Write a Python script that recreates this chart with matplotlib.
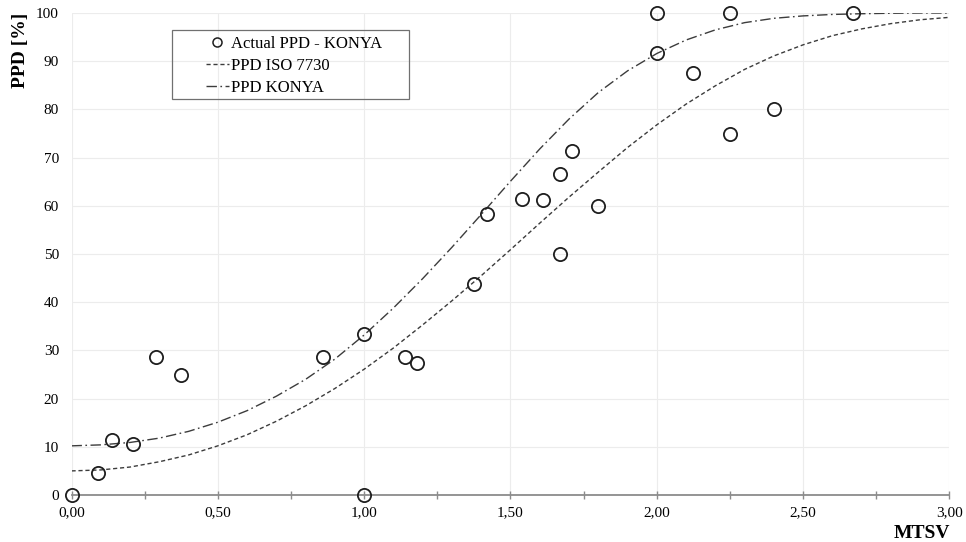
import numpy as np
import matplotlib.pyplot as plt
from matplotlib.ticker import MultipleLocator, FuncFormatter
from matplotlib.lines import Line2D
from matplotlib.patches import Rectangle

plt.rcParams['font.family'] = ['Liberation Serif', 'DejaVu Serif']

# measured points: Actual PPD - KONYA
mtsv_actual = [0.00, 0.09, 0.14, 0.21, 0.29, 0.375, 0.86, 1.00, 1.00, 1.14, 1.18,
               1.375, 1.42, 1.54, 1.61, 1.67, 1.67, 1.71, 1.80, 2.00, 2.00, 2.125,
               2.25, 2.25, 2.40, 2.67]
ppd_actual = [0.0, 4.6, 11.5, 10.6, 28.6, 25.0, 28.6, 33.3, 0.0, 28.6, 27.3,
              43.8, 58.3, 61.5, 61.1, 66.7, 50.0, 71.4, 60.0, 100.0, 91.7, 87.5,
              100.0, 75.0, 80.0, 100.0]

# curves every 0.1 MTSV
mtsv_curve = [0.0, 0.1, 0.2, 0.3, 0.4, 0.5, 0.6, 0.7, 0.8, 0.9, 1.0,
              1.1, 1.2, 1.3, 1.4, 1.5, 1.6, 1.7, 1.8, 1.9, 2.0,
              2.1, 2.2, 2.3, 2.4, 2.5, 2.6, 2.7, 2.8, 2.9, 3.0]
ppd_iso = [5.0, 5.2, 5.8, 6.9, 8.3, 10.2, 12.5, 15.3, 18.5, 22.1, 26.1,
           30.5, 35.3, 40.3, 45.5, 50.9, 56.4, 61.8, 67.0, 72.1, 76.8,
           81.1, 84.9, 88.3, 91.1, 93.4, 95.3, 96.7, 97.8, 98.6, 99.1]
ppd_konya = [10.2, 10.4, 10.9, 11.8, 13.2, 15.1, 17.5, 20.5, 24.0, 28.2, 33.2,
             38.8, 44.9, 51.4, 58.2, 65.1, 71.8, 78.0, 83.5, 88.0, 91.6,
             94.4, 96.5, 98.0, 98.9, 99.4, 99.7, 99.85, 99.95, 100.0, 100.0]

W, H = 966, 542
fig = plt.figure(figsize=(W / 100, H / 100), dpi=100)
ax = fig.add_axes([71.5 / W, 1 - 495 / H, 878 / W, 482 / H])

line_col = '#3c3c3c'
ax.plot(mtsv_curve, ppd_iso, color=line_col, lw=1.0, dashes=(3, 2), zorder=3)
ax.plot(mtsv_curve, ppd_konya, color=line_col, lw=1.0, dashes=(7.5, 2.5, 1.2, 2.5), zorder=3)
ax.plot(mtsv_actual, ppd_actual, linestyle='none', marker='o', ms=9.5, mfc='none',
        mec='#1e1e1e', mew=1.3, clip_on=False, zorder=5)

ax.set_xlim(0, 3)
ax.set_ylim(0, 100)
ax.xaxis.set_major_locator(MultipleLocator(0.5))
ax.xaxis.set_minor_locator(MultipleLocator(0.25))
ax.xaxis.set_major_formatter(FuncFormatter(lambda v, p: f"{v:.2f}".replace('.', ',')))
ax.yaxis.set_major_locator(MultipleLocator(10))

for s in ['top', 'right', 'left']:
    ax.spines[s].set_visible(False)
ax.spines['bottom'].set_color('#8c8c8c')
ax.spines['bottom'].set_linewidth(1.3)
ax.spines['bottom'].set_zorder(4)

ax.tick_params(axis='x', which='both', direction='inout', length=6, width=1.0,
               color='#8c8c8c', labelsize=11, pad=5)
ax.tick_params(axis='y', length=0, labelsize=11, pad=9)
ax.grid(True, which='major', color='#ececec', lw=0.8)
ax.set_axisbelow(True)

fig.text(21 / W, 1 - 50 / H, 'PPD [%]', rotation=90, ha='center', va='center',
         fontsize=14, fontweight='bold')
fig.text(950 / W, 1 - 533 / H, 'MTSV', ha='right', va='center',
         fontsize=14, fontweight='bold')

# legend (frame drawn separately to match the wide box)
handles = [
    Line2D([], [], linestyle='none', marker='o', ms=6.5, mfc='none', mec='#1e1e1e', mew=1.1),
    Line2D([], [], color=line_col, lw=1.0, dashes=(3, 2)),
    Line2D([], [], color=line_col, lw=1.0, dashes=(7.5, 2.5, 1.2, 2.5)),
]
labels = ['Actual PPD - KONYA', 'PPD ISO 7730', 'PPD KONYA']
fig.legend(handles, labels, loc='upper left', bbox_to_anchor=(206 / W, 1 - 36 / H),
           frameon=False, fontsize=12, handlelength=1.35, handletextpad=0.15,
           labelspacing=0.35, borderpad=0, borderaxespad=0)
fig.patches.append(Rectangle((172 / W, 1 - 99 / H), 237 / W, 69 / H,
                             transform=fig.transFigure, fill=False,
                             edgecolor='#707070', lw=0.9))

fig.savefig('out.png', dpi=100)
